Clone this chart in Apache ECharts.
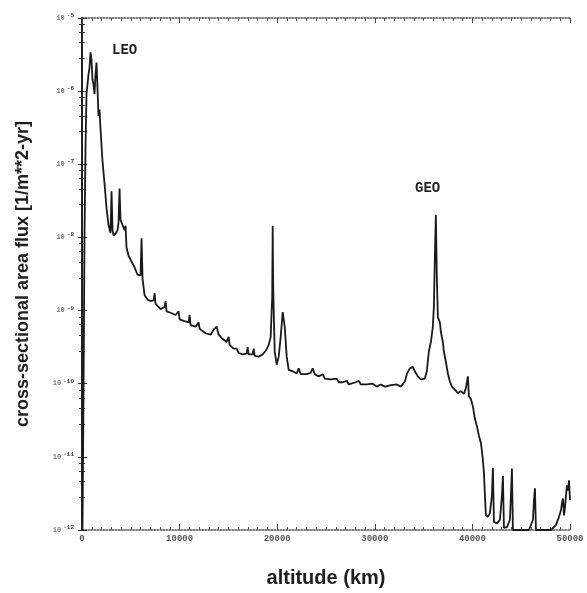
<!DOCTYPE html>
<html>
<head>
<meta charset="utf-8">
<script src="https://cdn.jsdelivr.net/npm/echarts@6/dist/echarts.min.js"></script>
<style>
  html, body { margin:0; padding:0; background:#fff; }
  #main { width:587px; height:593px; }
</style>
</head>
<body>
<div id="main"></div>
<script>
// altitude (km) and log10 of the flux
const altitudeKm = [
  50,154,256,359,461,667,769,872,974,1077,
  1179,1282,1385,1487,1590,1692,1795,1897,2102,2308,
  2513,2718,2923,3026,3128,3231,3436,3641,3743,3846,
  3949,4154,4359,4461,4564,4769,5077,5384,5692,5999,
  6102,6205,6410,6718,7025,7333,7436,7538,8051,8461,
  8564,8666,9077,9589,9897,10000,10410,10923,11025,11128,
  11641,11948,12051,12666,13179,13487,13794,14000,14410,14820,
  15025,15128,15538,15846,16051,16461,16871,16974,17077,17487,
  17589,17692,18102,18512,18820,19128,19333,19487,19538,19589,
  19743,19948,20153,20358,20564,20769,20974,21179,21589,21999,
  22205,22410,23025,23435,23640,23846,24256,24666,24871,25487,
  26102,26307,26717,27128,27333,28051,28358,28564,29179,29794,
  30205,30615,31025,31640,32256,32666,33076,33281,33589,33897,
  34102,34410,34717,35128,35333,35538,35743,35948,36051,36153,
  36256,36358,36461,36666,36769,36974,37076,37281,37487,37692,
  37897,38205,38512,38820,39128,39333,39538,39640,39846,40051,
  40256,40461,40666,40871,40974,41077,41179,41282,41384,41589,
  41794,41999,42102,42205,42512,42820,43025,43127,43230,43538,
  43845,43948,44050,44153,44974,45794,46205,46307,46410,46512,
  47538,48051,48563,48871,49076,49179,49281,49384,49486,49589,
  49692,49794,49897,50000
];
const fluxExp = [
  -12.0,-10.17,-8.01,-6.79,-6.04,-5.77,-5.68,-5.47,-5.57,-5.84,
  -5.91,-6.04,-5.77,-5.61,-5.97,-6.34,-6.25,-6.52,-6.96,-7.26,
  -7.60,-7.83,-7.94,-7.37,-7.90,-7.97,-7.95,-7.90,-7.80,-7.33,
  -7.76,-7.83,-7.90,-7.84,-8.14,-8.25,-8.33,-8.41,-8.51,-8.52,
  -8.01,-8.57,-8.79,-8.85,-8.87,-8.86,-8.76,-8.91,-8.98,-8.95,
  -8.87,-9.01,-9.03,-9.06,-9.01,-9.12,-9.14,-9.16,-9.06,-9.20,
  -9.22,-9.16,-9.25,-9.31,-9.33,-9.26,-9.22,-9.33,-9.39,-9.43,
  -9.36,-9.47,-9.52,-9.52,-9.58,-9.60,-9.59,-9.50,-9.60,-9.60,
  -9.52,-9.62,-9.63,-9.60,-9.55,-9.47,-9.36,-8.82,-7.84,-8.68,
  -9.56,-9.74,-9.63,-9.36,-9.02,-9.22,-9.63,-9.81,-9.83,-9.86,
  -9.79,-9.87,-9.87,-9.85,-9.79,-9.87,-9.90,-9.87,-9.93,-9.94,
  -9.93,-9.98,-9.98,-9.96,-10.01,-9.98,-9.96,-10.01,-10.01,-10.00,
  -10.04,-10.01,-10.04,-10.02,-10.01,-10.04,-9.97,-9.87,-9.79,-9.77,
  -9.83,-9.90,-9.94,-9.93,-9.83,-9.56,-9.43,-9.22,-8.95,-8.28,
  -7.69,-8.55,-9.09,-9.16,-9.29,-9.43,-9.56,-9.70,-9.86,-9.97,
  -10.04,-10.08,-10.13,-10.10,-10.14,-10.06,-9.90,-10.17,-10.21,-10.31,
  -10.48,-10.58,-10.71,-10.81,-10.92,-11.05,-11.21,-11.53,-11.80,-11.82,
  -11.77,-11.53,-11.15,-11.89,-11.91,-11.86,-11.53,-11.26,-11.97,-11.96,
  -11.86,-11.53,-11.16,-12.0,-12.0,-12.0,-11.86,-11.59,-11.43,-12.0,
  -12.0,-12.0,-11.93,-11.82,-11.73,-11.63,-11.57,-11.80,-11.69,-11.53,
  -11.39,-11.46,-11.32,-11.59
];
const xTicks = [0, 10000, 20000, 30000, 40000, 50000];
const yExponents = [-12, -11, -10, -9, -8, -7, -6, -5];
const peakNames = ['LEO', 'GEO'];

const chart = echarts.init(document.getElementById('main'));

const seriesData = altitudeKm.map((a, i) => [a, Math.pow(10, fluxExp[i])]);

const yLabel = v => {
  const e = Math.round(Math.log10(v));
  return '{b|10}{s|' + e + '}';
};

chart.setOption({
  animation: false,
  backgroundColor: '#fff',
  grid: { left: 82, right: 17, top: 18, bottom: 58 },
  xAxis: [{
    type: 'value',
    min: xTicks[0], max: xTicks[xTicks.length - 1], interval: 10000,
    name: 'altitude (km)',
    nameLocation: 'middle',
    nameGap: 38,
    nameTextStyle: { fontFamily: 'Liberation Sans', fontWeight: 'bold', fontSize: 20, color: '#1e1e1e' },
    axisLine: { lineStyle: { color: '#555', type: 'dotted', width: 1.5 } },
    axisTick: { inside: true, length: 6, lineStyle: { color: '#444' } },
    minorTick: { show: true, splitNumber: 10, length: 3, lineStyle: { color: '#555' } },
    splitLine: { show: false },
    axisLabel: {
      margin: 4, fontFamily: 'Liberation Mono', fontWeight: 'bold', fontSize: 9, color: '#555',
      formatter: v => String(v)
    }
  }, {
    type: 'value', position: 'top',
    min: xTicks[0], max: xTicks[xTicks.length - 1], interval: 10000,
    axisLine: { onZero: false, lineStyle: { color: '#555', type: 'dotted', width: 1.5 } },
    axisTick: { inside: true, length: 5, lineStyle: { color: '#444' } },
    minorTick: { show: true, splitNumber: 10, length: 3, lineStyle: { color: '#555' } },
    axisLabel: { show: false },
    splitLine: { show: false }
  }],
  yAxis: [{
    type: 'log', logBase: 10,
    min: Math.pow(10, yExponents[0]), max: Math.pow(10, yExponents[yExponents.length - 1]),
    splitNumber: 7,
    name: 'cross-sectional area flux [1/m**2-yr]',
    nameLocation: 'middle',
    nameGap: 50,
    nameTextStyle: { fontFamily: 'Liberation Sans', fontWeight: 'bold', fontSize: 18, color: '#1e1e1e' },
    axisLine: { lineStyle: { color: '#222', width: 2 } },
    axisTick: { inside: true, length: 5, lineStyle: { color: '#222' } },
    minorTick: { show: true, splitNumber: 5, length: 3, lineStyle: { color: '#333' } },
    splitLine: { show: false },
    axisLabel: {
      margin: 8,
      formatter: yLabel,
      rich: {
        b: { fontFamily: 'Liberation Mono', fontSize: 7, fontWeight: 'bold', color: '#777' },
        s: { fontFamily: 'Liberation Mono', fontSize: 6, fontWeight: 'bold', color: '#333', verticalAlign: 'bottom', padding: [0, 0, 5, 2] }
      }
    }
  }, {
    type: 'log', logBase: 10, position: 'right',
    min: Math.pow(10, yExponents[0]), max: Math.pow(10, yExponents[yExponents.length - 1]),
    splitNumber: 7,
    axisLine: { lineStyle: { color: '#222', width: 1.5 } },
    axisTick: { inside: true, length: 4, lineStyle: { color: '#333' } },
    minorTick: { show: true, splitNumber: 5, length: 3, lineStyle: { color: '#333' } },
    axisLabel: { show: false },
    splitLine: { show: false }
  }],
  graphic: [
    { type: 'text', left: 112, top: 43, style: { text: peakNames[0], fontFamily: 'Liberation Mono', fontWeight: 'bold', fontSize: 14, fill: '#222' } },
    { type: 'text', left: 415, top: 181, style: { text: peakNames[1], fontFamily: 'Liberation Mono', fontWeight: 'bold', fontSize: 14, fill: '#222' } }
  ],
  series: [{
    type: 'line',
    xAxisIndex: 0,
    yAxisIndex: 0,
    data: seriesData,
    showSymbol: false,
    clip: true,
    lineStyle: { color: '#1a1a1a', width: 1.8 }
  }]
});
</script>
</body>
</html>
